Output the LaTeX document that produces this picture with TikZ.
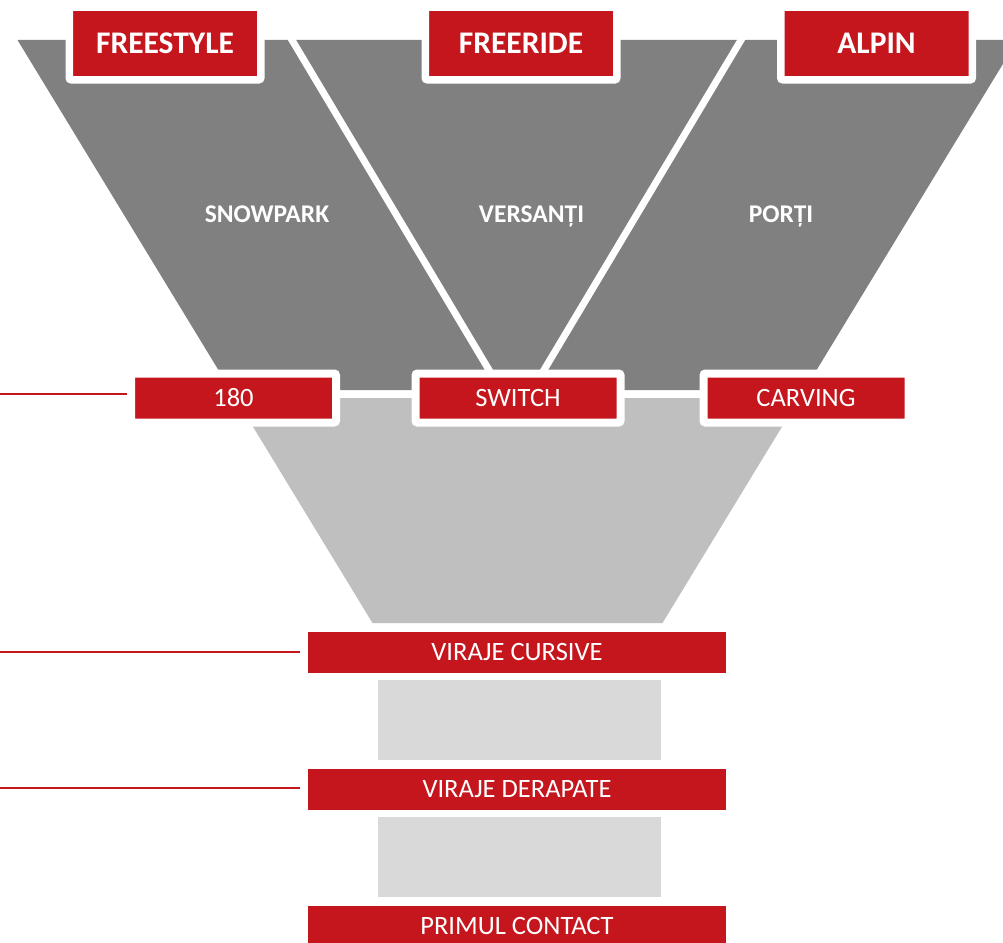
\documentclass[tikz,border=0pt]{standalone}
\usepackage{fontspec}
\setmainfont{Carlito}
\definecolor{fred}{HTML}{C4161C}
\definecolor{dgray}{HTML}{808080}
\definecolor{lgray}{HTML}{BFBFBF}
\definecolor{xgray}{HTML}{D9D9D9}
\tikzset{
  topbox/.style={fill=fred, draw=white, line width=7.5pt, rounded corners=2pt,
    minimum width=191.5pt, minimum height=72.5pt, inner sep=0pt, text=white,
    font=\fontsize{31.5}{31.5}\selectfont\bfseries, text height=20pt, text depth=0pt},
  midbox/.style={fill=fred, draw=white, line width=8pt, rounded corners=2pt,
    minimum width=205pt, minimum height=49pt, inner sep=0pt, text=white,
    font=\fontsize{26.5}{26.5}\selectfont, text height=16.6pt, text depth=0pt},
  lowbox/.style={fill=fred, minimum width=418pt, minimum height=41pt, inner sep=0pt,
    text=white, font=\fontsize{26.5}{26.5}\selectfont, text height=16.6pt, text depth=0pt},
  darklabel/.style={text=white, anchor=base, inner sep=0pt,
    font=\fontsize{25.5}{25.5}\selectfont\bfseries},
  divider/.style={draw=white, line width=7pt},
  redline/.style={draw=fred, line width=2.2pt},
  gapbox/.style={fill=xgray, draw=none}
}
\begin{document}
\begin{tikzpicture}[x=1pt,y=-1pt]
\useasboundingbox (0,0) rectangle (1003,942);
\clip (0,0) rectangle (1003,942);
\fill[white] (0,0) rectangle (1003,942);
% funnel upper (dark) part
\fill[dgray] (17.5,40) -- (1017.5,40) -- (804.4,390) -- (230.6,390) -- cycle;
% funnel lower (light) part
\fill[lgray] (235.5,398) -- (799.5,398) -- (662.5,623) -- (372.5,623) -- cycle;
% gaps
\fill[gapbox] (378,680) rectangle (661,760);
\fill[gapbox] (378,817) rectangle (661,897);
% dividing lines
\coordinate (d1a) at (286,30);
\coordinate (d1b) at (492,375);
\coordinate (d2a) at (747,30);
\coordinate (d2b) at (541,375);
\draw[divider] (d1a) -- (d1b);
\draw[divider] (d2a) -- (d2b);
% labels in dark region
\node[darklabel] (snow) at (267,222) {SNOWPARK};
\node[darklabel] (vers) at (531.5,222) {VERSANȚI};
\node[darklabel] (port) at (781,222) {PORȚI};
% top boxes
\node[topbox] (fs) at (165,43.5) {FREESTYLE};
\node[topbox] (fr) at (521,43.5) {FREERIDE};
\node[topbox] (al) at (876.5,43.5) {ALPIN};
% middle boxes
\node[midbox] (b180) at (233.5,398) {180};
\node[midbox] (sw) at (518,398) {SWITCH};
\node[midbox] (cv) at (806,398) {CARVING};
% lower boxes
\node[lowbox] (vc) at (517,652) {VIRAJE CURSIVE};
\node[lowbox] (vd) at (517,789) {VIRAJE DERAPATE};
\node[lowbox] (pc) at (517,926) {PRIMUL CONTACT};
% left red lines
\coordinate (l1) at (0,394);
\coordinate (l2) at (0,652);
\coordinate (l3) at (0,788);
\draw[redline] (l1) -- (b180.west |- l1);
\draw[redline] (l2) -- ([xshift=-8pt]vc.west |- l2);
\draw[redline] (l3) -- ([xshift=-8pt]vd.west |- l3);
\end{tikzpicture}
\end{document}
